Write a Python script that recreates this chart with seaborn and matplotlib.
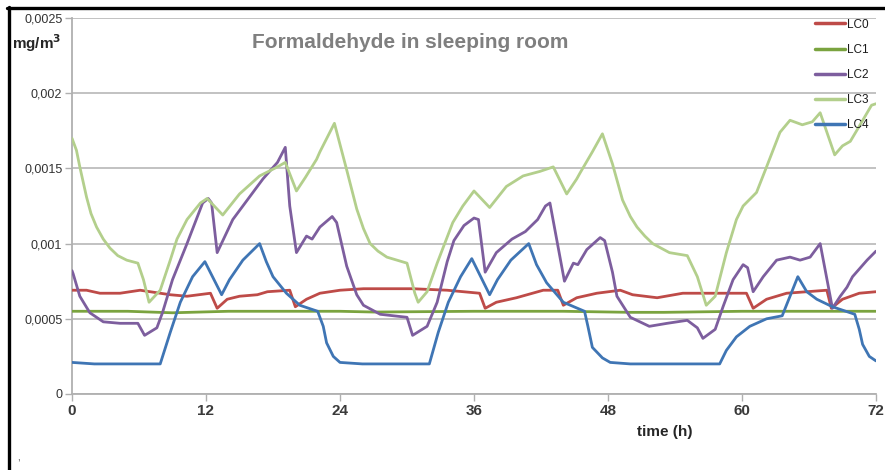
import matplotlib
matplotlib.use("Agg")
import matplotlib.pyplot as plt
from matplotlib.lines import Line2D
import seaborn as sns
import pandas as pd

# ---- data (hours, mg/m3) ----
lc0_t = [0, 1.3, 2.5, 4.3, 6.1, 7.0, 8.8, 10.3, 12.4, 13.0, 13.9, 15.0, 16.6, 17.5, 19.5, 20.0,
         21.0, 22.2, 24.0, 26.1, 30.5, 33.6, 36.5, 37.0, 38.0, 39.8, 42.2, 43.5, 44.0, 45.2, 47.0,
         49.1, 50.2, 52.4, 54.7, 56.8, 60.4, 61.0, 62.2, 64.0, 67.6, 68.0, 69.0, 70.5, 72]
lc0_v = [0.00069, 0.00069, 0.00067, 0.00067, 0.00069, 0.00068, 0.00066, 0.00065, 0.00067, 0.00057,
         0.00063, 0.00065, 0.00066, 0.00068, 0.00069, 0.00058, 0.00063, 0.00067, 0.00069, 0.0007,
         0.0007, 0.00069, 0.00067, 0.00057, 0.00061, 0.00064, 0.00069, 0.00069, 0.00059, 0.00064,
         0.00067, 0.00069, 0.00066, 0.00064, 0.00067, 0.00067, 0.00067, 0.00057, 0.00063, 0.00067,
         0.00069, 0.00057, 0.00063, 0.00067, 0.00068]

lc1_t = [0, 5, 9, 14, 24, 27, 36, 44, 50, 53, 60, 66, 72]
lc1_v = [0.00055, 0.00055, 0.00054, 0.00055, 0.00055, 0.000545, 0.00055, 0.00055, 0.000543,
         0.000543, 0.00055, 0.00055, 0.00055]

lc2_t = [0, 0.1, 0.7, 1.6, 2.8, 4.3, 5.9, 6.5, 7.6, 8.1, 9.0, 10.3, 11.7, 12.2, 12.5, 13.0, 14.4,
         15.9, 17.1, 18.4, 19.1, 19.5, 20.1, 21.0, 21.5, 22.2, 23.3, 23.7, 24.6, 25.5, 26.1, 27.6,
         30.0, 30.5, 31.8, 32.7, 33.6, 34.2, 35.1, 36.0, 36.4, 37.0, 38.0, 39.4, 40.6, 41.7, 42.4,
         42.8, 44.1, 44.9, 45.3, 46.1, 47.3, 47.7, 48.4, 48.8, 50.0, 51.7, 53.3, 55.1, 56.0, 56.5,
         57.6, 58.3, 59.2, 60.1, 60.5, 61.0, 61.9, 63.1, 64.3, 65.2, 66.1, 67.0, 68.1, 68.8, 69.4,
         69.9, 71.2, 72]
lc2_v = [0.00082, 0.0008, 0.00065, 0.00054, 0.00048, 0.00047, 0.00047, 0.00039, 0.00044, 0.00054,
         0.00076, 0.001, 0.00127, 0.0013, 0.00127, 0.00094, 0.00116, 0.00131, 0.00143, 0.00154,
         0.00164, 0.00125, 0.00094, 0.00105, 0.00103, 0.00111, 0.00118, 0.00114, 0.00085, 0.00066,
         0.00059, 0.00053, 0.00051, 0.00039, 0.00045, 0.00061, 0.00088, 0.00102, 0.00112, 0.00117,
         0.00116, 0.00081, 0.00094, 0.00103, 0.00108, 0.00116, 0.00125, 0.00127, 0.00075, 0.00087,
         0.00086, 0.00096, 0.00104, 0.00102, 0.00081, 0.00065, 0.00051, 0.00045, 0.00047, 0.00049,
         0.00044, 0.00037, 0.00043, 0.00058, 0.00076, 0.00086, 0.00084, 0.00068, 0.00078, 0.00089,
         0.00091, 0.00089, 0.00091, 0.001, 0.00057, 0.00065, 0.00071, 0.00078, 0.00089, 0.00095]

lc3_t = [0, 0.4, 0.7, 1.0, 1.3, 1.7, 2.2, 2.8, 3.4, 4.1, 4.9, 5.9, 6.4, 6.9, 7.9, 8.8, 9.4, 10.3,
         11.5, 12.1, 13.5, 15.0, 16.8, 18.4, 19.1, 20.1, 20.9, 21.9, 22.2, 23.5, 24.6, 25.5, 26.1,
         26.7, 27.4, 28.2, 30.0, 30.7, 31.0, 31.8, 32.7, 34.1, 35.0, 36.0, 37.4, 38.9, 40.4, 41.9,
         43.1, 44.3, 45.2, 45.5, 46.6, 47.5, 48.4, 49.3, 50.0, 50.6, 51.3, 52.0, 53.5, 55.1, 56.0,
         56.8, 57.6, 58.6, 59.5, 60.1, 61.3, 62.2, 63.4, 64.3, 65.4, 66.3, 67.0, 68.3, 69.0, 69.7,
         70.5, 71.6, 72]
lc3_v = [0.0017, 0.00162, 0.00151, 0.00141, 0.00131, 0.0012, 0.00111, 0.00103, 0.00097, 0.00092,
         0.00089, 0.00087, 0.00076, 0.00061, 0.00069, 0.00089, 0.00103, 0.00116, 0.00127, 0.0013,
         0.00119, 0.00133, 0.00145, 0.00151, 0.00154, 0.00135, 0.00144, 0.00156, 0.00161, 0.0018,
         0.00149, 0.00123, 0.0011, 0.001, 0.00095, 0.00091, 0.00087, 0.00067, 0.00061, 0.00068,
         0.00087, 0.00114, 0.00125, 0.00135, 0.00124, 0.00138, 0.00145, 0.00148, 0.00151, 0.00133,
         0.00143, 0.00147, 0.00161, 0.00173, 0.00153, 0.00129, 0.00118, 0.00111, 0.00105, 0.001,
         0.00094, 0.00092, 0.00078, 0.00059, 0.00065, 0.00094, 0.00116, 0.00125, 0.00134, 0.00151,
         0.00174, 0.00182, 0.00179, 0.00181, 0.00187, 0.00159, 0.00165, 0.00168, 0.00178, 0.00192,
         0.00193]

lc4_t = [0, 2, 7.9, 8.8, 9.7, 10.8, 11.9, 13.4, 14.1, 15.3, 16.8, 17.4, 18.0, 19.2, 20.4, 22.0,
         22.5, 22.8, 23.4, 24.0, 26, 32.0, 32.8, 33.7, 34.8, 35.8, 37.4, 38.1, 39.3, 40.9, 41.6,
         42.5, 44.0, 45.9, 46.2, 46.6, 47.5, 48.2, 50, 58.0, 58.6, 59.5, 60.7, 62.2, 63.6, 65.0,
         65.8, 66.7, 68.1, 70.1, 70.5, 70.8, 71.4, 72]
lc4_v = [0.00021, 0.0002, 0.0002, 0.00041, 0.00061, 0.00078, 0.00088, 0.00066, 0.00076, 0.00089,
         0.001, 0.00088, 0.00078, 0.00067, 0.00059, 0.00055, 0.00045, 0.00034, 0.00025, 0.00021,
         0.0002, 0.0002, 0.00041, 0.00061, 0.00078, 0.0009, 0.00066, 0.00076, 0.00089, 0.001,
         0.00086, 0.00074, 0.00061, 0.00055, 0.00045, 0.00031, 0.00024, 0.00021, 0.0002, 0.0002,
         0.00029, 0.00038, 0.00045, 0.0005, 0.00052, 0.00078, 0.00068, 0.00063, 0.00058, 0.00053,
         0.00043, 0.00033, 0.00025, 0.00022]

series_names = ["LC0", "LC1", "LC2", "LC3", "LC4"]
series_colors = ["#BE4B48", "#7AA33F", "#7D5E9E", "#B3CF8C", "#3F75B4"]
x_ticks = [0, 12, 24, 36, 48, 60, 72]
y_ticks = [0, 0.0005, 0.001, 0.0015, 0.002, 0.0025]
y_tick_labels = ["0", "0,0005", "0,001", "0,0015", "0,002", "0,0025"]

frames = []
for name, t, v in zip(series_names,
                      [lc0_t, lc1_t, lc2_t, lc3_t, lc4_t],
                      [lc0_v, lc1_v, lc2_v, lc3_v, lc4_v]):
    frames.append(pd.DataFrame({"time": t, "value": v, "series": name}))
df = pd.concat(frames, ignore_index=True)

sns.set_theme(style="white")
plt.rcParams["font.family"] = ["Liberation Sans", "DejaVu Sans"]

W, H = 885, 470
fig = plt.figure(figsize=(W / 100, H / 100), dpi=100)
fig.patch.set_facecolor("white")
ax = fig.add_axes([72 / W, 1 - 394 / H, (876 - 72) / W, (394 - 18) / H])

sns.lineplot(data=df, x="time", y="value", hue="series", hue_order=series_names,
             palette=dict(zip(series_names, series_colors)), sort=False, estimator=None,
             linewidth=2.0, ax=ax, legend=True, zorder=3)
for line in ax.get_lines():
    line.set_solid_joinstyle("round")

ax.set_xlim(0, 72)
ax.set_ylim(0, 0.0025)
ax.set_xticks(x_ticks)
ax.set_xticklabels([str(x) for x in x_ticks], fontsize=11, fontweight="bold", color="#3A3A3A")
ax.set_yticks(y_ticks)
ax.set_yticklabels(y_tick_labels, fontsize=9, color="#333333")
ax.set_xlabel("")
ax.set_ylabel("")

ax.grid(axis="y", color="#BDBDBD", linewidth=1.3, zorder=0)
ax.grid(axis="x", visible=False)
for side in ["top", "right"]:
    ax.spines[side].set_visible(False)
for side in ["left", "bottom"]:
    ax.spines[side].set_color("#B0B0B0")
    ax.spines[side].set_linewidth(1.3)
ax.tick_params(axis="both", which="major", length=5, width=1.0, color="#B0B0B0",
               direction="out", bottom=True, left=True, pad=2)

leg = ax.legend(loc="upper left", bbox_to_anchor=(738 / 804, 1.011), frameon=False,
                fontsize=8.5, handlelength=2.6, handletextpad=0.1, labelspacing=1.12,
                borderaxespad=0.0)
for line in leg.get_lines():
    line.set_linewidth(2.5)
for txt in leg.get_texts():
    txt.set_color("#1A1A1A")

fig.text(410 / W, 1 - 43 / H, "Formaldehyde in sleeping room", ha="center", va="center",
         fontsize=15, fontweight="bold", color="#7F7F7F")
fig.text(12 / W, 1 - 43 / H, r"mg/m$^{\mathbf{3}}$", ha="left", va="center", fontsize=11,
         fontweight="bold", color="#262626")
fig.text(665 / W, 1 - 432 / H, "time (h)", ha="center", va="center", fontsize=11,
         fontweight="bold", color="#262626")
fig.text(18 / W, 1 - 457 / H, ",", ha="center", va="center", fontsize=7, color="#333333")

# outer black frame (top and left edges)
fig.add_artist(Line2D([8.5 / W, 8.5 / W], [0, 1 - 7 / H], color="black", linewidth=2.4,
                      transform=fig.transFigure))
fig.add_artist(Line2D([7 / W, 1], [1 - 8 / H, 1 - 8 / H], color="black", linewidth=2.4,
                      transform=fig.transFigure))

fig.savefig("out.png", dpi=100, facecolor="white")
